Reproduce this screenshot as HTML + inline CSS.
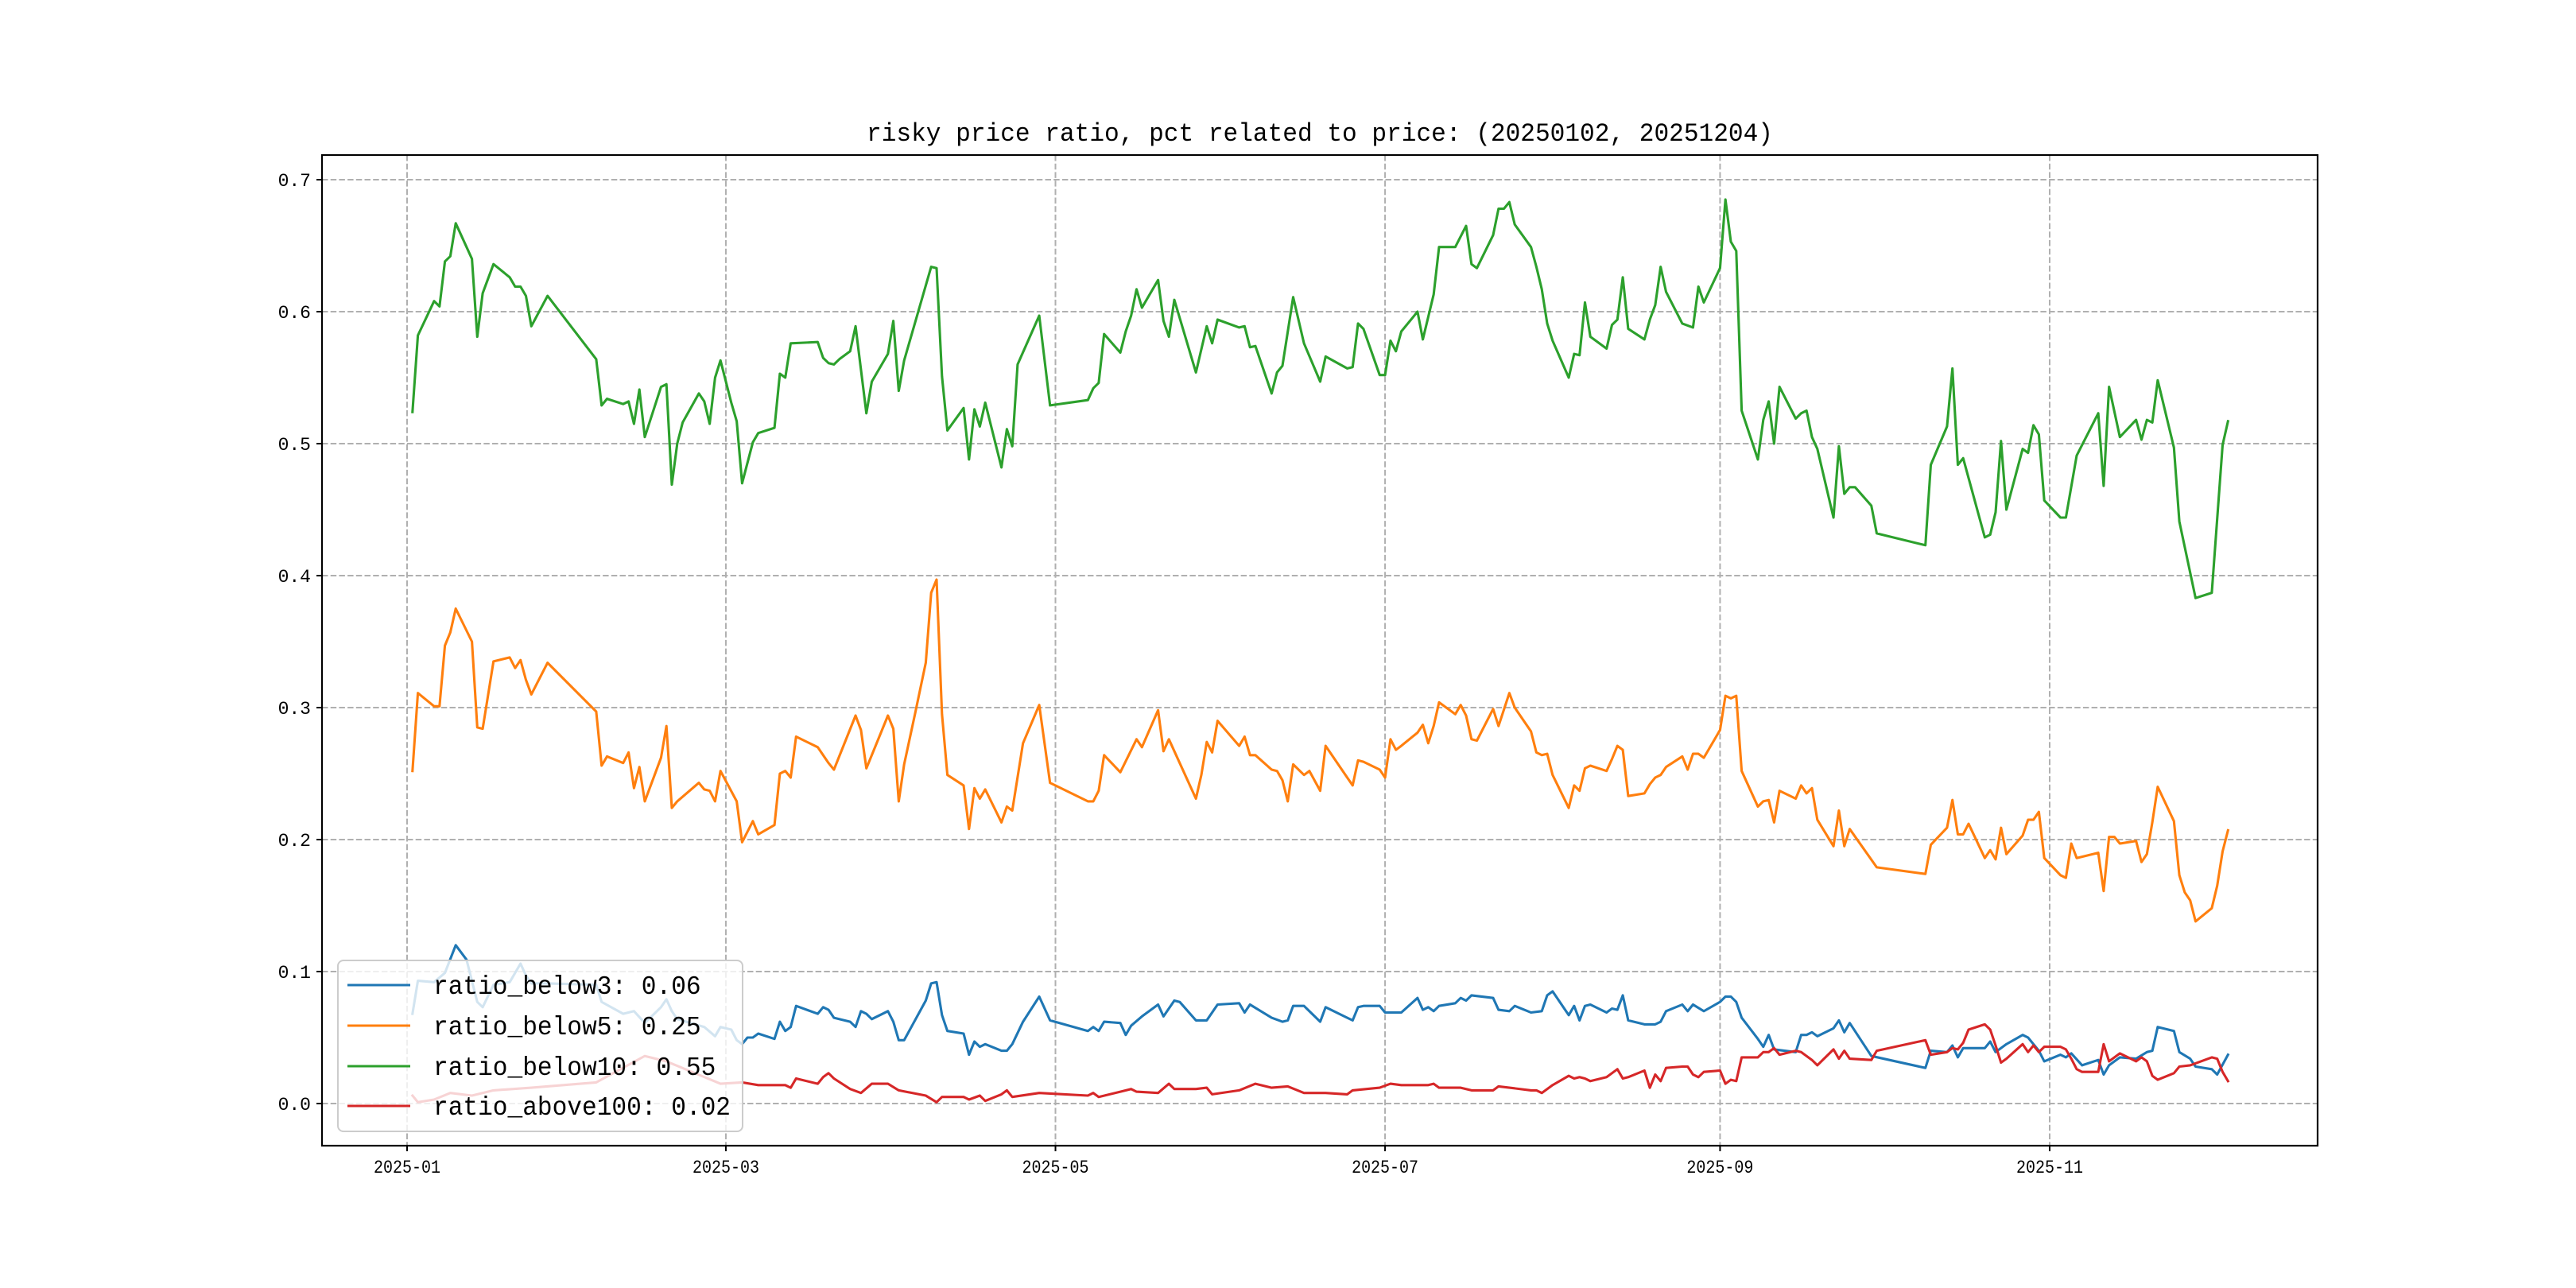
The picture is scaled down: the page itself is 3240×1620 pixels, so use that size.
<!DOCTYPE html>
<html><head><meta charset="utf-8"><style>
html,body{margin:0;padding:0;background:#fff;}
svg{display:block;}
</style></head><body>
<svg id="chart" xmlns="http://www.w3.org/2000/svg" width="3240" height="1620" viewBox="0 0 3240 1620">
<rect x="0" y="0" width="3240" height="1620" fill="#fff"/>
<text x="1660" y="177" text-anchor="middle" font-family="Liberation Mono, monospace" font-size="32" textLength="1140" lengthAdjust="spacingAndGlyphs" fill="#000">risky price ratio, pct related to price: (20250102, 20251204)</text>
<g id="grid"></g>
<g id="series"></g>
<rect x="405" y="195" width="2510" height="1246" fill="none" stroke="#000" stroke-width="2.2"/>
<g id="ticks"></g>
<g id="legend"></g>
</svg>
<script>
// ---- data (day offsets from 2025-01-01) ----
const greenDays=[1,2,5,6,7,8,9,12,13,14,16,19,20,21,22,23,26,35,36,37,40,41,42,43,44,47,48,49,50,51,54,55,56,57,58,60,61,62,64,65,68,69,70,71,76,77,78,79,80,82,83,85,86,89,90,91,92,97,98,99,100,103,104,105,106,107,110,111,112,113,117,119,126,127,128,129,132,133,134,135,136,139,140,141,142,146,148,149,150,154,155,156,157,160,161,162,164,166,169,170,174,175,176,177,180,181,182,183,184,187,188,190,191,194,196,197,198,201,202,203,204,205,208,209,210,211,212,215,216,217,218,219,222,223,224,225,226,229,230,231,232,233,236,238,239,240,243,244,245,246,247,250,251,252,253,254,257,258,259,260,261,264,265,266,267,268,271,272,281,282,285,286,287,288,289,292,293,294,295,296,299,300,301,302,303,306,307,309,313,314,315,317,320,321,322,323,324,327,328,331,334,336,337];
const greenVals=[.524,.582,.608,.604,.638,.642,.667,.640,.581,.614,.636,.626,.619,.619,.612,.589,.612,.564,.529,.534,.530,.532,.515,.541,.505,.543,.545,.469,.500,.516,.538,.532,.515,.550,.563,.531,.517,.470,.501,.508,.512,.553,.550,.576,.577,.565,.561,.560,.564,.570,.589,.523,.547,.568,.593,.540,.563,.634,.633,.551,.510,.527,.488,.526,.513,.531,.482,.511,.498,.560,.597,.529,.533,.542,.546,.583,.569,.585,.597,.617,.603,.624,.593,.581,.609,.554,.589,.576,.594,.588,.589,.573,.574,.538,.554,.559,.611,.576,.547,.566,.557,.558,.591,.587,.552,.552,.578,.570,.585,.600,.579,.613,.649,.649,.665,.636,.633,.658,.678,.678,.683,.666,.649,.634,.617,.591,.578,.550,.568,.567,.607,.581,.572,.590,.594,.626,.587,.579,.594,.605,.634,.615,.591,.588,.619,.607,.633,.685,.653,.646,.525,.488,.518,.532,.500,.543,.519,.523,.525,.505,.496,.444,.498,.462,.467,.467,.453,.432,.423,.484,.513,.557,.484,.489,.474,.429,.431,.448,.502,.450,.496,.493,.514,.507,.457,.444,.444,.491,.523,.468,.543,.505,.518,.503,.518,.516,.548,.497,.441,.383,.387,.499,.517];
const orangeDays=[1,2,5,6,7,8,9,12,13,14,16,19,20,21,22,23,26,35,36,37,40,41,42,43,44,47,48,49,50,54,55,56,57,58,61,62,64,65,68,69,70,71,72,76,78,79,83,84,85,89,90,91,92,94,96,97,98,99,100,103,104,105,106,107,110,111,112,114,117,119,126,127,128,129,132,135,136,139,140,141,146,147,148,149,150,154,155,156,157,160,161,162,163,164,166,167,169,170,174,175,176,177,180,181,182,183,184,187,188,189,190,191,194,195,196,197,198,201,202,204,205,208,209,210,211,212,215,216,217,218,219,222,223,224,225,226,229,230,231,232,233,236,237,238,239,240,243,244,245,246,247,250,251,252,253,254,257,258,259,260,261,264,265,266,267,272,281,282,285,286,287,288,289,292,293,294,295,296,299,300,301,302,303,306,307,308,309,313,314,315,316,317,320,321,322,323,324,327,328,329,330,331,334,335,336,337];
const orangeVals=[.252,.311,.301,.301,.347,.357,.375,.350,.285,.284,.335,.338,.330,.336,.321,.310,.334,.297,.256,.263,.258,.266,.239,.255,.229,.262,.286,.224,.229,.243,.238,.237,.229,.252,.229,.198,.214,.204,.211,.250,.252,.247,.278,.270,.258,.253,.294,.283,.254,.294,.284,.229,.257,.295,.334,.387,.397,.295,.249,.241,.208,.239,.231,.238,.213,.225,.222,.273,.302,.243,.229,.229,.237,.264,.251,.276,.270,.298,.267,.276,.231,.249,.274,.266,.290,.271,.278,.264,.264,.253,.252,.245,.229,.257,.249,.252,.237,.271,.247,.241,.260,.259,.253,.247,.276,.268,.271,.281,.287,.273,.286,.304,.295,.302,.294,.276,.275,.299,.286,.311,.300,.282,.266,.264,.265,.249,.224,.241,.237,.254,.256,.252,.261,.271,.268,.233,.235,.242,.247,.249,.255,.263,.253,.265,.265,.262,.283,.309,.307,.309,.252,.225,.229,.230,.213,.237,.231,.241,.235,.239,.215,.195,.222,.195,.208,.179,.174,.196,.209,.230,.204,.204,.212,.186,.192,.185,.209,.189,.203,.215,.215,.221,.186,.173,.171,.197,.186,.190,.161,.202,.202,.197,.199,.183,.189,.213,.240,.214,.173,.160,.154,.138,.148,.165,.191,.207];
const blueDays=[1,2,5,7,9,11,13,14,16,19,21,22,23,26,35,36,40,42,44,47,48,49,50,55,57,58,60,61,62,63,64,65,68,69,70,71,72,76,77,78,79,82,83,84,85,86,89,90,91,92,96,97,98,99,100,103,104,105,106,107,110,111,112,114,117,119,126,127,128,129,132,133,134,136,139,140,142,143,146,148,150,154,155,156,160,162,163,164,166,169,170,174,175,176,177,180,181,184,187,188,189,190,191,194,195,196,197,201,202,204,205,208,210,211,212,215,216,217,218,219,222,223,224,225,226,229,231,232,233,236,237,238,240,243,244,245,246,247,250,251,252,253,257,258,259,260,261,264,265,266,267,271,281,282,285,286,287,288,292,293,294,296,299,300,302,303,306,307,308,310,313,314,315,317,320,322,323,324,327,328,330,331,334,335,337];
const blueVals=[.068,.093,.092,.099,.120,.109,.077,.073,.090,.092,.106,.097,.091,.091,.090,.077,.068,.070,.061,.073,.079,.070,.064,.058,.051,.058,.056,.048,.045,.050,.050,.053,.049,.062,.055,.058,.074,.068,.073,.071,.065,.062,.058,.070,.068,.064,.070,.062,.048,.048,.078,.091,.092,.067,.055,.053,.037,.047,.043,.045,.040,.040,.045,.062,.081,.063,.055,.058,.055,.062,.061,.052,.059,.066,.075,.066,.078,.077,.063,.063,.075,.076,.069,.075,.065,.062,.063,.074,.074,.062,.073,.065,.063,.073,.074,.074,.069,.069,.080,.071,.073,.070,.074,.076,.080,.078,.082,.080,.071,.070,.074,.069,.070,.082,.085,.067,.074,.063,.074,.075,.069,.072,.071,.082,.063,.060,.060,.062,.070,.075,.070,.075,.070,.077,.081,.081,.077,.065,.049,.043,.052,.041,.039,.052,.052,.054,.051,.057,.063,.054,.061,.036,.027,.040,.039,.044,.035,.042,.042,.047,.039,.045,.052,.050,.040,.032,.037,.035,.038,.029,.033,.022,.029,.035,.034,.039,.040,.058,.055,.039,.034,.028,.026,.022,.037];
const redDays=[1,2,5,8,12,16,23,35,44,48,58,62,65,70,71,72,76,77,78,79,82,84,86,89,91,96,98,99,103,104,106,107,110,111,112,117,126,127,128,132,134,135,139,141,142,146,148,149,154,157,160,163,166,170,174,175,180,182,184,189,190,191,195,197,201,202,208,209,210,212,215,216,217,218,219,222,224,225,226,229,230,231,232,233,236,237,238,239,240,243,244,245,246,247,250,251,252,253,254,257,258,259,260,261,264,265,266,267,271,272,281,282,285,286,287,288,289,292,293,294,295,296,299,300,301,302,303,306,307,308,309,310,313,314,315,317,320,321,322,323,324,327,328,330,334,335,336,337];
const redVals=[.006,.001,.003,.008,.006,.010,.012,.016,.036,.032,.015,.016,.014,.014,.012,.019,.015,.020,.023,.019,.011,.008,.015,.015,.010,.006,.001,.005,.005,.003,.006,.002,.007,.010,.005,.008,.006,.008,.005,.009,.011,.009,.008,.015,.011,.011,.012,.007,.010,.015,.012,.013,.008,.008,.007,.010,.012,.015,.014,.014,.015,.012,.012,.010,.010,.013,.010,.010,.008,.014,.021,.019,.020,.019,.017,.020,.026,.019,.020,.025,.012,.022,.017,.027,.028,.028,.022,.020,.024,.025,.015,.018,.017,.035,.035,.039,.039,.042,.037,.040,.039,.036,.033,.029,.041,.034,.040,.034,.033,.040,.048,.037,.039,.042,.041,.046,.056,.060,.056,.044,.031,.034,.045,.039,.044,.039,.043,.043,.041,.034,.026,.024,.024,.045,.032,.038,.032,.035,.032,.021,.018,.023,.028,.029,.035,.034,.024,.017];
const yTicks=[0,0.1,0.2,0.3,0.4,0.5,0.6,0.7];
const yTickLabels=["0.0","0.1","0.2","0.3","0.4","0.5","0.6","0.7"];
const xTickDays=[0,59,120,181,243,304];
const xTickLabels=["2025-01","2025-03","2025-05","2025-07","2025-09","2025-11"];
const legendLabels=["ratio_below3: 0.06","ratio_below5: 0.25","ratio_below10: 0.55","ratio_above100: 0.02"];

// ---- axes ----
const AX={l:405,t:195,r:2915,b:1441};
function xS(d){return 512+d*6.796;}
function yS(v){return 1388-v*1660;}
const NS="http://www.w3.org/2000/svg";
function mk(tag,attrs,parent){const e=document.createElementNS(NS,tag);for(const k in attrs)e.setAttribute(k,attrs[k]);parent.appendChild(e);return e;}
const grid=document.getElementById('grid'),ticks=document.getElementById('ticks'),series=document.getElementById('series'),legend=document.getElementById('legend');
yTicks.forEach((v,i)=>{
  const y=yS(v);
  const g=mk('line',{x1:AX.l,x2:AX.r,y1:y,y2:y,stroke:'#b0b0b0','stroke-width':2,'stroke-dasharray':'7.5,3.2'},grid);
  
  
  const t=mk('line',{x1:AX.l-7,x2:AX.l,y1:y,y2:y,stroke:'#000','stroke-width':2},ticks);
  
  
  const tx=mk('text',{x:AX.l-14,y:y+8,'text-anchor':'end','font-family':'Liberation Mono, monospace','font-size':23,fill:'#000'},ticks);
  tx.textContent=yTickLabels[i];
  
  
});
xTickDays.forEach((d,i)=>{
  const x=xS(d);
  const g=mk('line',{x1:x,x2:x,y1:AX.t,y2:AX.b,stroke:'#b0b0b0','stroke-width':2,'stroke-dasharray':'7.5,3.2'},grid);
  
  
  const t=mk('line',{x1:x,x2:x,y1:AX.b,y2:AX.b+7,stroke:'#000','stroke-width':2},ticks);
  
  
  const tx=mk('text',{x:x,y:1475,'text-anchor':'middle','font-family':'Liberation Mono, monospace','font-size':23,textLength:84,lengthAdjust:'spacingAndGlyphs',fill:'#000'},ticks);
  tx.textContent=xTickLabels[i];
  
  
});
const colors=['#1f77b4','#ff7f0e','#2ca02c','#d62728'];
const allDays=[blueDays,orangeDays,greenDays,redDays];
const allVals=[blueVals,orangeVals,greenVals,redVals];
const names=['series-ratio-below3','series-ratio-below5','series-ratio-below10','series-ratio-above100'];
allDays.forEach((days,k)=>{
  const vals=allVals[k];
  const pts=days.map((d,i)=>xS(d).toFixed(1)+','+yS(vals[i]).toFixed(1)).join(' ');
  const p=mk('polyline',{points:pts,fill:'none',stroke:colors[k],'stroke-width':3.1,'stroke-linejoin':'round','stroke-linecap':'square'},series);
  
  
});
// legend
const lb=mk('rect',{x:425,y:1208,width:509,height:215,rx:7,fill:'#fff','fill-opacity':0.8,stroke:'#cccccc','stroke-width':2},legend);


const rowY=[1239,1290,1341,1391];
legendLabels.forEach((s,i)=>{
  const ln=mk('line',{x1:437,x2:516,y1:rowY[i],y2:rowY[i],stroke:colors[i],'stroke-width':3.1},legend);
  
  
  const tx=mk('text',{x:545,y:rowY[i]+11,'font-family':'Liberation Mono, monospace','font-size':33,textLength:s.length*18.7,lengthAdjust:'spacingAndGlyphs',fill:'#000'},legend);
  tx.textContent=s;
  
  
});
</script>
</body></html>
